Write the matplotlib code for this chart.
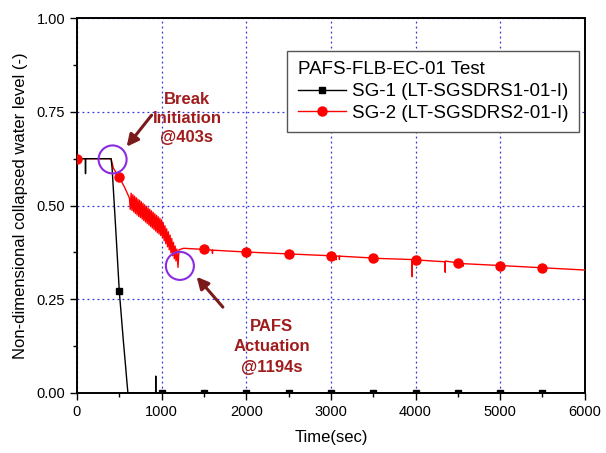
import matplotlib
matplotlib.use("Agg")
import matplotlib.pyplot as plt
from matplotlib.patches import Ellipse
from matplotlib.ticker import MultipleLocator, FormatStrFormatter

plt.rcParams['font.family'] = ['Liberation Sans', 'DejaVu Sans']

# SG-1 (black) time series
t_sg1 = [0, 100, 101, 102, 200, 300, 403, 415, 460, 500, 547, 575, 590, 602, 700, 930, 931, 932, 1000, 2000, 3000, 4000, 5000, 6000]
v_sg1 = [0.625, 0.625, 0.585, 0.625, 0.625, 0.625, 0.625, 0.60, 0.43, 0.272, 0.142, 0.07, 0.03, 0.0, 0.0, 0.0, 0.045, 0.0, 0.0, 0.0, 0.0, 0.0, 0.0, 0.0]
# SG-1 marker points
tm_sg1 = [500, 1000, 1500, 2000, 2500, 3000, 3500, 4000, 4500, 5000, 5500]
vm_sg1 = [0.272, 0, 0, 0, 0, 0, 0, 0, 0, 0, 0]

# SG-2 (red) time series
t_sg2 = [0, 200, 403, 430, 470, 500, 560, 620,
         630, 640, 650, 660, 670, 680, 690, 700, 710, 720, 730, 740, 750, 760, 770, 780, 790,
         800, 810, 820, 830, 840, 850, 860, 870, 880, 890, 900, 910, 920, 930, 940, 950, 960,
         970, 980, 990, 1000, 1010, 1020, 1030, 1040, 1050, 1060, 1070, 1080, 1090, 1100,
         1110, 1120, 1130, 1140, 1150, 1160, 1170, 1180, 1194, 1205, 1260,
         1500, 1600, 1601, 1602, 2000, 2500, 3000, 3060, 3061, 3062, 3100, 3101, 3102,
         3500, 3550, 3551, 3552, 3960, 3961, 3962, 4000, 4350, 4351, 4352, 4500, 4560, 4561, 4562,
         5000, 5500, 6000]
v_sg2 = [0.625, 0.625, 0.625, 0.60, 0.585, 0.575, 0.55, 0.520,
         0.490, 0.533, 0.487, 0.529, 0.483, 0.525, 0.479, 0.521, 0.475, 0.517, 0.471, 0.514, 0.468, 0.510, 0.464, 0.506, 0.460,
         0.502, 0.456, 0.498, 0.452, 0.494, 0.448, 0.490, 0.444, 0.486, 0.440, 0.482, 0.436, 0.478, 0.432, 0.474, 0.428, 0.470,
         0.424, 0.466, 0.420, 0.462, 0.414, 0.454, 0.406, 0.446, 0.398, 0.438, 0.390, 0.430, 0.382, 0.421,
         0.374, 0.412, 0.366, 0.402, 0.358, 0.392, 0.352, 0.384, 0.335, 0.382, 0.386,
         0.383, 0.381, 0.372, 0.381, 0.376, 0.371, 0.366, 0.365, 0.355, 0.365, 0.365, 0.356, 0.365,
         0.360, 0.359, 0.352, 0.359, 0.356, 0.310, 0.356, 0.355, 0.350, 0.322, 0.352, 0.347, 0.345, 0.338, 0.345,
         0.340, 0.334, 0.328]
# SG-2 marker points
tm_sg2 = [0, 500, 1500, 2000, 2500, 3000, 3500, 4000, 4500, 5000, 5500]
vm_sg2 = [0.625, 0.575, 0.383, 0.376, 0.371, 0.366, 0.360, 0.355, 0.347, 0.340, 0.334]

# event markers (time, level)
events_t = [421, 1216]
events_v = [0.623, 0.339]

legend_title = "PAFS-FLB-EC-01 Test"
label_sg1 = "SG-1 (LT-SGSDRS1-01-I)"
label_sg2 = "SG-2 (LT-SGSDRS2-01-I)"

fig = plt.figure(figsize=(6.06, 4.53), dpi=100)
ax = fig.add_axes([0.127, 0.1325, 0.838, 0.8275])

red = '#ff0000'
ax.plot(t_sg2, v_sg2, color=red, lw=1.0, zorder=3)
ax.plot(tm_sg2, vm_sg2, 'o', color=red, ms=6.5, zorder=4)
ax.plot(t_sg1, v_sg1, color='black', lw=1.0, zorder=3)
ax.plot(tm_sg1, vm_sg1, 's', color='black', ms=5, zorder=4)

# legend proxies
ax.plot([], [], '-s', color='black', ms=5, lw=1.0, label=label_sg1)
ax.plot([], [], '-o', color=red, ms=6.5, lw=1.0, label=label_sg2)
leg = ax.legend(title=legend_title, loc='upper right', bbox_to_anchor=(0.988, 0.912),
                fontsize=13.5, title_fontsize=13.5, frameon=True, fancybox=False,
                edgecolor='#555555', handlelength=2.6, borderpad=0.55, labelspacing=0.25,
                handletextpad=0.3, framealpha=1, borderaxespad=0)
leg._legend_box.align = 'left'
leg.get_frame().set_linewidth(1.0)

ax.set_xlim(0, 6000)
ax.set_ylim(0, 1.0)
ax.xaxis.set_major_locator(MultipleLocator(1000))
ax.xaxis.set_minor_locator(MultipleLocator(500))
ax.yaxis.set_major_locator(MultipleLocator(0.25))
ax.yaxis.set_minor_locator(MultipleLocator(0.125))
ax.yaxis.set_major_formatter(FormatStrFormatter('%.2f'))
ax.tick_params(which='major', direction='out', length=5, width=1, labelsize=10.5)
ax.tick_params(which='minor', direction='out', length=3, width=1)
ax.grid(True, which='major', color='#3333dd', linestyle=(0, (1.5, 2.5)), lw=0.9)
for s in ax.spines.values():
    s.set_linewidth(1.4)

ax.set_xlabel('Time(sec)', fontsize=12, labelpad=8)
ax.set_ylabel('Non-dimensional collapsed water level (-)', fontsize=12, labelpad=6)

# annotations
dark = '#a01c1c'
ax.text(1300, 0.733, 'Break\nInitiation\n@403s', color=dark, fontsize=12, fontweight='bold',
        ha='center', va='center', linespacing=1.35, zorder=6)
ax.text(2303, 0.123, 'PAFS\nActuation\n@1194s', color=dark, fontsize=12, fontweight='bold',
        ha='center', va='center', linespacing=1.45, zorder=6)
arrow_kw = dict(arrowstyle='-|>,head_length=0.7,head_width=0.35', color='#7a1a1a', lw=2.2,
                shrinkA=0, shrinkB=0)
ax.annotate('', xy=(587, 0.657), xytext=(882, 0.741), arrowprops=arrow_kw, zorder=6)
ax.annotate('', xy=(1414, 0.310), xytext=(1724, 0.229), arrowprops=arrow_kw, zorder=6)

for et, ev in zip(events_t, events_v):
    ax.add_patch(Ellipse((et, ev), width=331, height=0.0747, fill=False,
                         edgecolor='#8a2be2', lw=1.5, zorder=5))

fig.savefig('out.png', dpi=100)
